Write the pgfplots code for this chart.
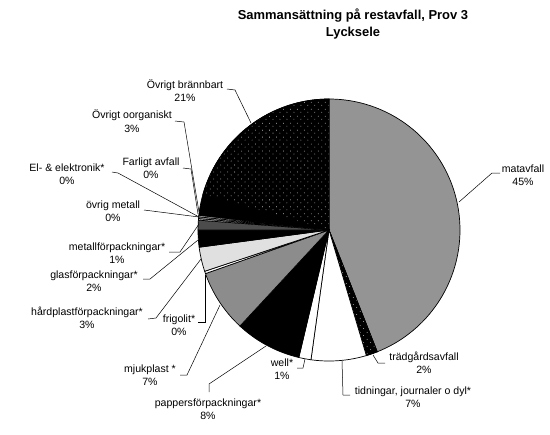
\documentclass[border=0pt]{standalone}
\usepackage{fontspec}
\setmainfont{Liberation Sans}
\usepackage{pgfplots}
\pgfplotsset{compat=1.18}
\usetikzlibrary{patterns}

% sparse white dots on the dark slices
\pgfdeclarepatternformonly{sparsedots}{\pgfqpoint{-1pt}{-1pt}}{\pgfqpoint{7pt}{7pt}}{\pgfqpoint{7pt}{7pt}}{%
  \pgfpathcircle{\pgfqpoint{1pt}{1pt}}{0.4pt}%
  \pgfpathcircle{\pgfqpoint{4.5pt}{4pt}}{0.4pt}%
  \pgfusepath{fill}}

\newcommand\lab{\fontsize{10.6}{13.5}\selectfont}
\newcommand\ttl{\fontsize{13}{18}\selectfont\bfseries}

% pie centre (329,230), radius 131, slices clockwise from 12 o'clock
\def\cum{0}
\newcommand\slice[2]{%
  \pgfmathsetmacro\slA{3.6*\cum}%
  \pgfmathsetmacro\newcum{\cum+#1}%
  \global\let\cum\newcum
  \pgfmathsetmacro\slB{3.6*\cum}%
  \edef\doslice{\noexpand\addplot[\unexpanded{#2},draw=black,line width=0.7pt,domain=\slA:\slB,samples=80,variable=\noexpand\t]}%
  \doslice ({329+131*sin(\t)},{230-131*cos(\t)}) -- (329,230) -- cycle;%
}

\begin{document}
\begin{tikzpicture}
\begin{axis}[width=550bp, height=434bp, scale only axis,
  xmin=0, xmax=550, ymin=0, ymax=434, y dir=reverse,
  hide axis, clip=false]
\path (0,0) rectangle (550,434);

\slice{44.0}{fill=black!42}% matavfall
\slice{1.4}{fill=black, postaction={pattern=sparsedots, pattern color=white}}% tradgardsavfall
\slice{6.8}{fill=white}% tidningar
\slice{1.5}{fill=white}% well
\slice{8.2}{fill=black}% pappersforpackningar
\slice{7.7}{fill=black!45}% mjukplast
\slice{0.3}{fill=white}% frigolit
\slice{3.0}{fill=black!12}% hardplast
\slice{2.1}{fill=black}% glas
\slice{1.2}{fill=black!70}% metallforpackningar
\slice{0.2}{fill=black!30}% ovrig metall
\slice{0.2}{fill=black!30}% el
\slice{0.2}{fill=black!30}% farligt
\slice{2.6}{fill=black}% ovrigt oorganiskt
\slice{20.6}{fill=black, postaction={pattern=sparsedots, pattern color=white}}% ovrigt brannbart

\draw[line width=0.5pt] (227,89) -- (235,90) -- (251,123);
\draw[line width=0.5pt] (175,121) -- (184,122) -- (199,212);
\draw[line width=0.5pt] (183,168) -- (191,169) -- (198,214);
\draw[line width=0.5pt] (112,172) -- (118,173) -- (199,217);
\draw[line width=0.5pt] (144,210) -- (199,217);
\draw[line width=0.5pt] (169,252) -- (180,252) -- (199,224);
\draw[line width=0.5pt] (143,279) -- (150,279) -- (198,240);
\draw[line width=0.5pt] (148,319) -- (156,318) -- (201,259);
\draw[line width=0.5pt] (198,322) -- (205,322) -- (205,275);
\draw[line width=0.5pt] (180,375) -- (187,375) -- (220,305);
\draw[line width=0.5pt] (209,392) -- (209,384) -- (266,346);
\draw[line width=0.5pt] (297,368) -- (303,368) -- (305,359);
\draw[line width=0.5pt] (350,395) -- (343,395) -- (342,361);
\draw[line width=0.5pt] (385,363) -- (378,363) -- (373,355);
\draw[line width=0.5pt] (500,173) -- (492,173) -- (459,202);

\node[font=\ttl, align=center] at (353,24) {Sammansättning på restavfall, Prov 3\\Lycksele};
\node[font=\lab, align=center] at (185,90.5) {Övrigt brännbart\\21\%};
\node[font=\lab, align=center] at (132,121) {Övrigt oorganiskt\\3\%};
\node[font=\lab, align=center] at (151,168) {Farligt avfall\\0\%};
\node[font=\lab, align=center] at (67,174) {El- \& elektronik*\\0\%};
\node[font=\lab, align=center] at (113,211) {övrig metall\\0\%};
\node[font=\lab, align=center] at (117,253) {metallförpackningar*\\1\%};
\node[font=\lab, align=center] at (94,281) {glasförpackningar*\\2\%};
\node[font=\lab, align=center] at (87,318) {hårdplastförpackningar*\\3\%};
\node[font=\lab, align=center] at (179,325) {frigolit*\\0\%};
\node[font=\lab, align=center] at (150,375) {mjukplast *\\7\%};
\node[font=\lab, align=center] at (208,409) {pappersförpackningar*\\8\%};
\node[font=\lab, align=center] at (282,369) {well*\\1\%};
\node[font=\lab, align=center] at (413,397) {tidningar, journaler o dyl*\\7\%};
\node[font=\lab, align=center] at (424,363) {trädgårdsavfall\\2\%};
\node[font=\lab, align=center] at (523,175) {matavfall\\45\%};
\end{axis}
\end{tikzpicture}
\end{document}
